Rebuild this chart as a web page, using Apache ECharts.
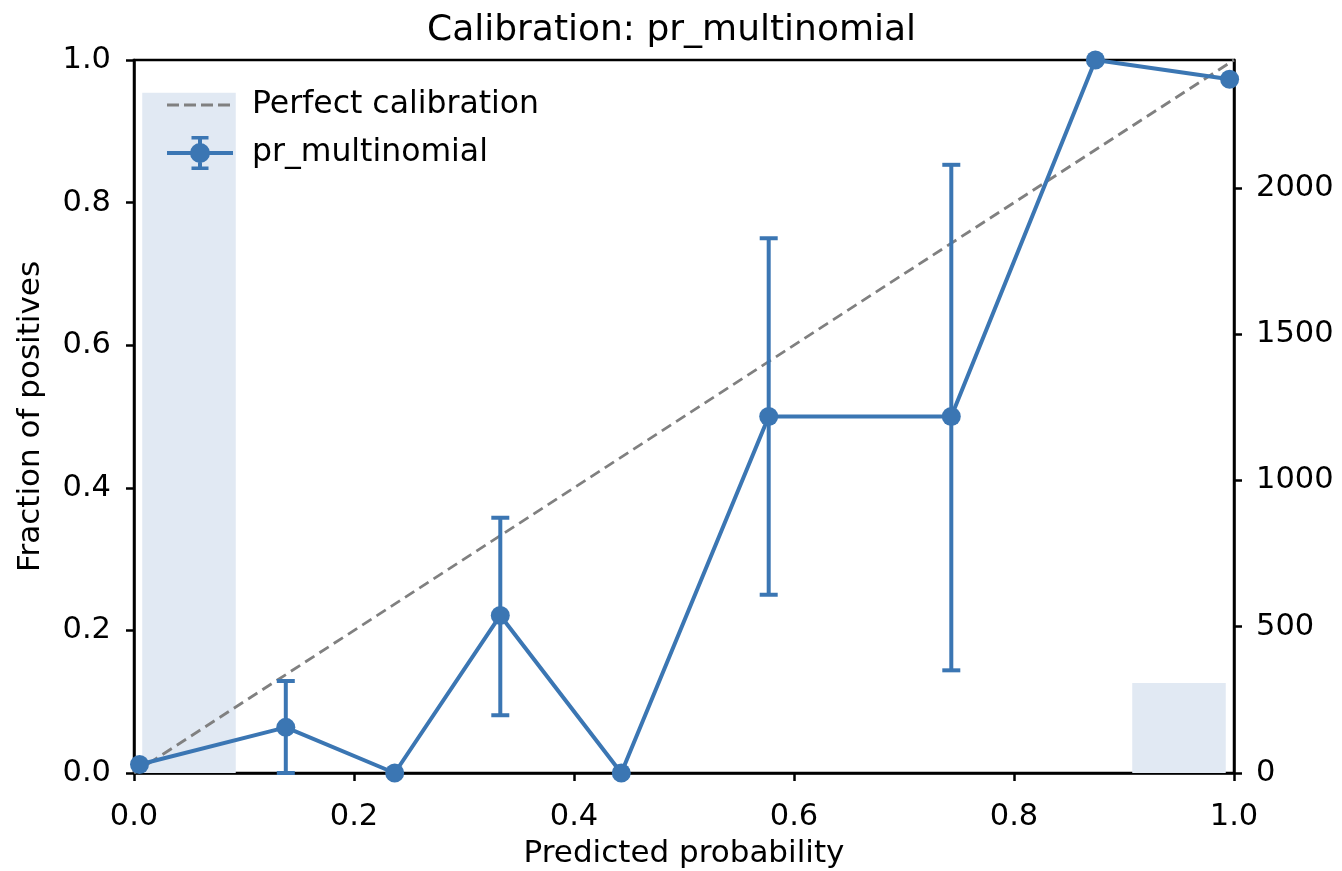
<!DOCTYPE html>
<html>
<head>
<meta charset="utf-8">
<script src="https://cdn.jsdelivr.net/npm/echarts@6/dist/echarts.min.js"></script>
<style>html,body{margin:0;padding:0;background:#fff}#c{width:1342px;height:871px}</style>
</head>
<body>
<div id="c"></div>
<script>
// Calibration points
var predProb = [0.005, 0.138, 0.237, 0.333, 0.443, 0.577, 0.743, 0.874, 0.996];
var fracPos  = [0.012, 0.064, 0.0, 0.221, 0.0, 0.5, 0.5, 1.0, 0.973];
var errLow   = [0.012, 0.0, 0.0, 0.081, 0.0, 0.25, 0.144, 1.0, 0.973];
var errHigh  = [0.012, 0.129, 0.0, 0.358, 0.0, 0.75, 0.853, 1.0, 0.973];
// Histogram of predicted probabilities (right axis)
var binCenters = [0.05, 0.95];
var binCounts  = [2325, 308];
var binWidth = 0.085;
var xTicks = [0, 0.2, 0.4, 0.6, 0.8, 1.0];
var countTicks = [0, 500, 1000, 1500, 2000];
var countMax = 2437;

var BLUE = '#3b76b3';
var FONT = 'DejaVu Sans';

var chart = echarts.init(document.getElementById('c'), null, {renderer: 'canvas'});

var lineData = predProb.map(function (p, i) { return [p, fracPos[i]]; });
var errData = predProb.map(function (p, i) { return [p, errLow[i], errHigh[i]]; });
var barData = binCenters.map(function (c, i) { return [c, binCounts[i]]; });

var dashIcon = 'path://M0 0M66 34M0 15.6h12v2.8h-12zM17 15.6h12v2.8h-12zM34 15.6h12v2.8h-12zM51 15.6h12v2.8h-12z';
var errIcon = 'path://M0 15h66v4h-66zM31 0h4v34h-4zM24.5 0h17v3.5h-17zM24.5 30.5h17v3.5h-17zM23 17a10 10 0 1 1 20 0a10 10 0 1 1 -20 0z';

var axisCommon = {
  axisLine: {show: true, lineStyle: {color: '#000', width: 2.5}},
  axisTick: {show: true, length: 8, lineStyle: {color: '#000', width: 2.5}},
  splitLine: {show: false},
  axisLabel: {color: '#000', fontFamily: FONT, fontSize: 30.5, margin: 22}
};

var option = {
  animation: false,
  backgroundColor: '#fff',
  title: {
    text: 'Calibration: pr_multinomial',
    left: 422, top: 8,
    textStyle: {fontFamily: FONT, fontSize: 36, fontWeight: 'normal', color: '#000'}
  },
  grid: {left: 134, right: 108, top: 60, bottom: 98, show: true, borderColor: '#000', borderWidth: 2.5,
    backgroundColor: 'transparent', outerBoundsMode: 'none', containLabel: false},
  legend: {
    left: 162, top: 83, orient: 'vertical',
    itemWidth: 66, itemHeight: 34, itemGap: 14,
    itemStyle: {borderWidth: 0},
    textStyle: {fontFamily: FONT, fontSize: 31.5, color: '#000', padding: [0, 0, 0, 14]},
    data: [
      {name: 'Perfect calibration', icon: dashIcon},
      {name: 'pr_multinomial', icon: errIcon}
    ]
  },
  xAxis: Object.assign({}, axisCommon, {
    type: 'value', min: 0, max: 1, interval: 0.2,
    name: 'Predicted probability', nameLocation: 'middle', nameGap: 65,
    nameTextStyle: {fontFamily: FONT, fontSize: 31, color: '#000'},
    axisLabel: Object.assign({}, axisCommon.axisLabel, {margin: 29, formatter: function (v) { return v.toFixed(1); }})
  }),
  yAxis: [
    Object.assign({}, axisCommon, {
      type: 'value', min: 0, max: 1, interval: 0.2, position: 'left',
      name: 'Fraction of positives', nameLocation: 'middle', nameGap: 88, nameRotate: 90,
      nameTextStyle: {fontFamily: FONT, fontSize: 31, color: '#000'},
      axisLabel: Object.assign({}, axisCommon.axisLabel, {margin: 23, formatter: function (v) { return v.toFixed(1); }})
    }),
    Object.assign({}, axisCommon, {
      type: 'value', min: 0, max: countMax, interval: 500, position: 'right',
      axisLabel: Object.assign({}, axisCommon.axisLabel, {showMaxLabel: false,
        formatter: function (v) { return countTicks.indexOf(v) >= 0 ? String(v) : ''; }})
    })
  ],
  series: [
    {
      name: 'counts', type: 'custom', xAxisIndex: 0, yAxisIndex: 1, z: 1,
      data: barData,
      renderItem: function (params, api) {
        var c = api.value(0), n = api.value(1);
        var p0 = api.coord([c - binWidth / 2, n]);
        var p1 = api.coord([c + binWidth / 2, 0]);
        return {type: 'rect', shape: {x: p0[0], y: p0[1], width: p1[0] - p0[0], height: p1[1] - p0[1]},
          style: {fill: '#e1e9f3'}};
      },
      silent: true
    },
    {
      name: 'Perfect calibration', type: 'line', z: 3,
      data: [[0, 0], [1, 1]], symbol: 'none',
      itemStyle: {color: '#808080'},
      lineStyle: {color: '#808080', width: 2.8, type: [11, 6]}
    },
    {
      name: 'pr_multinomial', type: 'custom', z: 4,
      data: errData,
      renderItem: function (params, api) {
        var x = api.value(0), lo = api.value(1), hi = api.value(2);
        if (hi - lo < 1e-9) return null;
        var a = api.coord([x, hi]), b = api.coord([x, lo]);
        var cw = 9;
        var st = {stroke: BLUE, lineWidth: 4};
        return {type: 'group', children: [
          {type: 'line', shape: {x1: a[0], y1: a[1], x2: b[0], y2: b[1]}, style: st},
          {type: 'line', shape: {x1: a[0] - cw, y1: a[1], x2: a[0] + cw, y2: a[1]}, style: st},
          {type: 'line', shape: {x1: b[0] - cw, y1: b[1], x2: b[0] + cw, y2: b[1]}, style: st}
        ]};
      },
      itemStyle: {color: BLUE}
    },
    {
      name: 'pr_multinomial', type: 'line', z: 5,
      data: lineData, symbol: 'circle', symbolSize: 19, clip: true,
      itemStyle: {color: BLUE},
      lineStyle: {color: BLUE, width: 4}
    }
  ]
};
chart.setOption(option);
</script>
</body>
</html>
